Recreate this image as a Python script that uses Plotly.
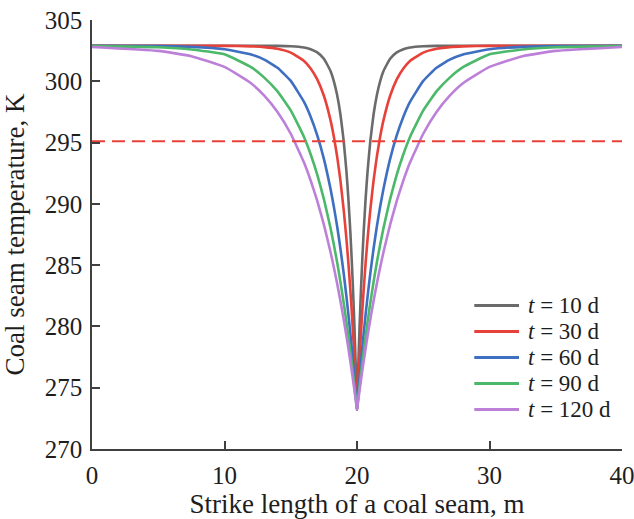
import plotly.graph_objects as go

# x positions along the strike (m)
x_m = [0, 5, 7.5, 10, 12, 13, 14, 15, 16, 16.5, 17, 17.5, 18, 18.25, 18.5, 18.75, 19, 19.2, 19.35,
       19.5, 19.6, 19.7, 19.8, 19.9, 19.95, 20,
       20.05, 20.1, 20.2, 20.3, 20.4, 20.5, 20.65, 20.8, 21, 21.25, 21.5, 21.75, 22, 22.5, 23, 23.5,
       24, 25, 26, 27, 28, 30, 32.5, 35, 40]

t10 = [302.9, 302.9, 302.9, 302.9, 302.9, 302.9, 302.89, 302.86, 302.76, 302.62, 302.36, 301.84,
       300.84, 300.02, 298.88, 297.29, 295.07, 292.68, 290.41, 287.65, 285.48, 282.99, 280.15,
       276.91, 275.12, 273.2,
       275.12, 276.91, 280.15, 282.99, 285.48, 287.65, 290.41, 292.68, 295.07, 297.29, 298.88,
       300.02, 300.84, 301.84, 302.36, 302.62, 302.76, 302.86, 302.89, 302.9, 302.9, 302.9, 302.9,
       302.9, 302.9]
t30 = [302.9, 302.9, 302.9, 302.89, 302.85, 302.79, 302.65, 302.34, 301.66, 301.05, 300.15, 298.82,
       296.83, 295.49, 293.87, 291.89, 289.47, 287.16, 285.17, 282.93, 281.28, 279.49, 277.56,
       275.47, 274.36, 273.2,
       274.36, 275.47, 277.56, 279.49, 281.28, 282.93, 285.17, 287.16, 289.47, 291.89, 293.87,
       295.49, 296.83, 298.82, 300.15, 301.05, 301.66, 302.34, 302.65, 302.79, 302.85, 302.89,
       302.9, 302.9, 302.9]
t60 = [302.9, 302.87, 302.81, 302.62, 302.19, 301.77, 301.10, 300.03, 298.32, 297.11, 295.59, 293.67,
       291.23, 289.79, 288.17, 286.34, 284.29, 282.46, 280.98, 279.39, 278.26, 277.08, 275.85,
       274.56, 273.89, 273.2,
       273.89, 274.56, 275.85, 277.08, 278.26, 279.39, 280.98, 282.46, 284.29, 286.34, 288.17,
       289.79, 291.23, 293.67, 295.59, 297.11, 298.32, 300.03, 301.10, 301.77, 302.19, 302.62,
       302.81, 302.87, 302.9]
t90 = [302.87, 302.78, 302.6, 302.2, 301.15, 300.3, 299.18, 297.63, 295.46, 294.05, 292.38, 290.39,
       288.03, 286.69, 285.23, 283.63, 281.89, 280.38, 279.18, 277.92, 277.04, 276.13, 275.19,
       274.21, 273.71, 273.2,
       273.71, 274.21, 275.19, 276.13, 277.04, 277.92, 279.18, 280.38, 281.89, 283.63, 285.23,
       286.69, 288.03, 290.39, 292.38, 294.05, 295.46, 297.63, 299.18, 300.3, 301.15, 302.2,
       302.6, 302.78, 302.87]
t120 = [302.80, 302.48, 302.05, 301.17, 299.84, 298.83, 297.50, 295.72, 293.37, 291.91, 290.24, 288.30,
        286.07, 284.83, 283.51, 282.08, 280.54, 279.24, 278.21, 277.13, 276.39, 275.63, 274.84,
        274.03, 273.62, 273.2,
        273.62, 274.03, 274.84, 275.63, 276.39, 277.13, 278.21, 279.24, 280.54, 282.08, 283.51,
        284.83, 286.07, 288.30, 290.24, 291.91, 293.37, 295.72, 297.50, 298.83, 299.84, 301.17,
        302.05, 302.48, 302.80]

series = [t10, t30, t60, t90, t120]
labels = ["<i>t</i> = 10 d", "<i>t</i> = 30 d", "<i>t</i> = 60 d", "<i>t</i> = 90 d", "<i>t</i> = 120 d"]
colors = ["#6b6b6b", "#e8413a", "#3f6fc0", "#4cb86a", "#bd80d9"]

threshold_x = [0, 40]
threshold_y = [295.1, 295.1]

font_family = "Liberation Serif"
text_color = "#1e1e1e"

fig = go.Figure()
for ys, name, c in zip(series, labels, colors):
    fig.add_trace(go.Scatter(x=x_m, y=ys, mode="lines", name=name, showlegend=False,
                             line=dict(color=c, width=2.6, shape="spline", smoothing=0.4)))
fig.add_trace(go.Scatter(x=threshold_x, y=threshold_y, mode="lines", showlegend=False,
                         line=dict(color="#e8413a", width=2, dash="13px,7px")))

# legend drawn as line samples + text (paper coordinates)
leg_top, leg_step = 0.3345, 0.0606
shapes, annotations = [], []
for i, (name, c) in enumerate(zip(labels, colors)):
    yy = leg_top - i * leg_step
    shapes.append(dict(type="line", xref="paper", yref="paper", x0=0.7213, x1=0.8057, y0=yy, y1=yy,
                       line=dict(color=c, width=3)))
    annotations.append(dict(xref="paper", yref="paper", x=0.8202, y=yy, xanchor="left", yanchor="middle",
                            text=name, showarrow=False, borderpad=0,
                            font=dict(family=font_family, size=23, color=text_color)))

axis_common = dict(showgrid=False, zeroline=False, showline=True, linecolor="#404040", linewidth=1.5,
                   ticks="inside", ticklen=8, tickwidth=1.5, tickcolor="#404040",
                   tickfont=dict(family=font_family, size=25, color=text_color),
                   mirror=False, automargin=False)

fig.update_xaxes(range=[0, 40], tickvals=[0, 10, 20, 30, 40], ticklabeloverflow="allow",
                 ticklabelstandoff=3,
                 title=dict(text="Strike length of a coal seam, m", standoff=6,
                            font=dict(family=font_family, size=27, color=text_color)),
                 **axis_common)
fig.update_yaxes(range=[270, 305], tickvals=[270, 275, 280, 285, 290, 295, 300, 305],
                 ticklabelstandoff=3,
                 title=dict(text="Coal seam temperature, K",
                            font=dict(family=font_family, size=27, color=text_color)),
                 **axis_common)

fig.update_layout(
    width=634, height=519,
    margin=dict(l=92, r=12, t=20, b=70),
    paper_bgcolor="white", plot_bgcolor="white",
    showlegend=False,
    shapes=shapes, annotations=annotations,
)

fig.write_html("out.html")
